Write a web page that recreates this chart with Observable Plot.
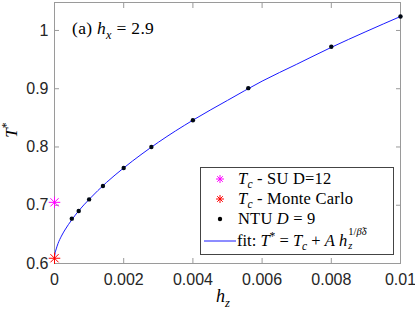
<!DOCTYPE html>
<html>
<head>
<meta charset="utf-8">
<script src="https://cdn.jsdelivr.net/npm/d3@7"></script>
<script src="https://cdn.jsdelivr.net/npm/@observablehq/plot@0.6"></script>
<style>
  body { margin: 0; background: #fff; }
  #wrap { position: relative; width: 415px; height: 310px; font-family: "Liberation Serif", serif; }
  #wrap > svg { position: absolute; left: 0; top: 0; }
  .ov { position: absolute; white-space: nowrap; color: #000; }
  .leg { position: absolute; left: 200px; top: 167px; width: 192px; height: 86px; border: 1px solid #444; background: #fff; }
  .row { position: absolute; left: 0; height: 20px; width: 192px; font-size: 16.5px; line-height: 20px; letter-spacing: 0.2px; white-space: nowrap; }
  .row svg { position: absolute; left: 0; top: 0; }
  .row span.t { position: absolute; left: 37px; top: 0; }
  sub, sup { font-size: 70%; line-height: 0; }
  .ss { position: relative; display: inline-block; width: 30px; height: 20px; vertical-align: top; font-size: 10.5px; }
  .ss .u { position: absolute; left: 1px; top: -5px; line-height: 12px; }
  .ss .d { position: absolute; left: 1px; top: 9px; line-height: 12px; }
</style>
</head>
<body>
<div id="wrap"></div>
<script>
// NTU D=9 data points
const hzNTU = [0.0005, 0.0007, 0.001, 0.0014, 0.002, 0.0028, 0.004, 0.0056, 0.008, 0.01];
const TNTU  = [0.677, 0.690, 0.710, 0.733, 0.764, 0.800, 0.846, 0.901, 0.972, 1.024];
// critical temperatures at hz = 0
const hzTc = [0];
const TcSU = [0.705];
const TcMC = [0.609];
// fit curve samples
const fitH = [0, 0.000002, 0.00001, 0.00005, 0.0001, 0.0002, 0.0003, 0.0005, 0.0007, 0.001, 0.0015, 0.002, 0.003, 0.004, 0.005, 0.006, 0.007, 0.008, 0.009, 0.01];
const fitT = [0.609, 0.611, 0.615, 0.625, 0.634, 0.647, 0.6575, 0.675, 0.6905, 0.710, 0.739, 0.764, 0.808, 0.846, 0.880, 0.913, 0.942, 0.971, 0.998, 1.024];
// ticks
const xTicks = [0, 0.002, 0.004, 0.006, 0.008, 0.01];
const xTickLabels = ["0", "0.002", "0.004", "0.006", "0.008", "0.01"];
const yTicks = [0.6, 0.7, 0.8, 0.9, 1];
const yTickLabels = ["0.6", "0.7", "0.8", "0.9", "1"];

const ntu = hzNTU.map((h, i) => ({h, T: TNTU[i]}));
const fit = fitH.map((h, i) => ({h, T: fitT[i]}));
const su = hzTc.map((h, i) => ({h, T: TcSU[i]}));
const mc = hzTc.map((h, i) => ({h, T: TcMC[i]}));

const axisColor = "#9a9a9a";
const fmtX = d => xTickLabels[xTicks.indexOf(d)];
const fmtY = d => yTickLabels[yTicks.indexOf(d)];

const chart = Plot.plot({
  width: 415,
  height: 310,
  marginLeft: 54,
  marginRight: 15,
  marginTop: 2,
  marginBottom: 47,
  style: { fontFamily: "'Liberation Sans', Arial, sans-serif", fontSize: "16px", color: "#262626", background: "transparent", overflow: "visible" },
  x: { domain: [0, 0.01], label: null },
  y: { domain: [0.6, 1.048], label: null },
  marks: [
    Plot.frame({ stroke: axisColor, strokeWidth: 1 }),
    // tick labels
    Plot.axisX(xTicks, { anchor: "bottom", tickSize: 0, tickPadding: 10, tickFormat: fmtX, fill: "#262626", fontSize: 16, label: null }),
    Plot.axisY(yTicks, { anchor: "left", tickSize: 0, tickPadding: 6, tickFormat: fmtY, fill: "#262626", fontSize: 16, label: null }),
    // inward ticks on all four sides
    Plot.axisX(xTicks, { anchor: "bottom", tickSize: -5, text: null, stroke: axisColor, label: null }),
    Plot.axisX(xTicks, { anchor: "top", tickSize: -5, text: null, stroke: axisColor, label: null }),
    Plot.axisY(yTicks, { anchor: "left", tickSize: -5, text: null, stroke: axisColor, label: null }),
    Plot.axisY(yTicks, { anchor: "right", tickSize: -5, text: null, stroke: axisColor, label: null }),
    // fit line
    Plot.line(fit, { x: "h", y: "T", stroke: "#1a1aff", strokeWidth: 1, curve: "monotone-x" }),
    // NTU points
    Plot.dot(ntu, { x: "h", y: "T", r: 2.2, fill: "#000814", stroke: "none" }),
    // SU Tc (asterisk = plus + times)
    Plot.dot(su, { x: "h", y: "T", symbol: "plus", r: 3.8, stroke: "#ff00ff", strokeWidth: 1 }),
    Plot.dot(su, { x: "h", y: "T", symbol: "times", r: 3.8, stroke: "#ff00ff", strokeWidth: 1 }),
    // MC Tc
    Plot.dot(mc, { x: "h", y: "T", symbol: "plus", r: 3.8, stroke: "#ff0000", strokeWidth: 1 }),
    Plot.dot(mc, { x: "h", y: "T", symbol: "times", r: 3.8, stroke: "#ff0000", strokeWidth: 1 })
  ]
});

const wrap = document.getElementById("wrap");
wrap.appendChild(chart);

function ast(color) {
  return `<svg width="36" height="20"><g stroke="${color}" stroke-width="1"><path d="M19,6V14M15,10H23M16.2,7.2L21.8,12.8M21.8,7.2L16.2,12.8"/></g></svg>`;
}
const overlay = `
  <div class="ov" style="left:72px; top:18px; font-size:17.5px; letter-spacing:0.3px;">(a) <i>h<sub>x</sub></i> = 2.9</div>
  <div class="ov" style="left:1px; top:120px; font-size:17px; transform: rotate(-90deg); transform-origin: 50% 50%; width:22px; text-align:center;"><i>T</i><sup>*</sup></div>
  <div class="ov" style="left:216px; top:286px; font-size:18px;"><i>h<sub>z</sub></i></div>
  <div class="leg">
    <div class="row" style="top:1px">${ast("#ff00ff")}<span class="t"><i>T<sub>c</sub></i> - SU D=12</span></div>
    <div class="row" style="top:21px">${ast("#ff0000")}<span class="t"><i>T<sub>c</sub></i> - Monte Carlo</span></div>
    <div class="row" style="top:41px"><svg width="36" height="20"><circle cx="19" cy="10" r="2.2" fill="#000"/></svg><span class="t">NTU <i>D</i> = 9</span></div>
    <div class="row" style="top:63px; letter-spacing:0;"><svg width="36" height="20"><line x1="3" x2="35" y1="10" y2="10" stroke="#1a1aff" stroke-width="1"/></svg><span class="t" style="left:36px">fit: <i>T</i><sup>*</sup> = <i>T<sub>c</sub></i> + <i>A</i> <i>h</i><span class="ss"><span class="u">1/<i>β̃δ</i></span><span class="d"><i>z</i></span></span></span></div>
  </div>`;
wrap.insertAdjacentHTML("beforeend", overlay);
</script>
</body>
</html>
